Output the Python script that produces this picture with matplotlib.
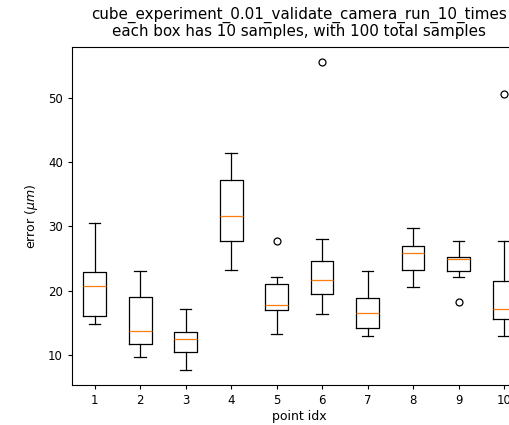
import matplotlib
matplotlib.use('Agg')
import matplotlib.pyplot as plt

# box statistics (error in um)
idx = [1, 2, 3, 4, 5, 6, 7, 8, 9, 10]
whislo = [14.8, 9.7, 7.7, 23.2, 13.3, 16.3, 13.0, 20.6, 22.1, 13.0]
q1 = [16.1, 11.7, 10.4, 27.7, 17.0, 19.5, 14.2, 23.2, 23.1, 15.6]
med = [20.75, 13.7, 12.5, 31.7, 17.7, 21.7, 16.6, 25.9, 24.9, 17.2]
q3 = [22.9, 19.0, 13.5, 37.2, 21.0, 24.7, 18.8, 27.0, 25.3, 21.5]
whishi = [30.5, 23.0, 17.1, 41.5, 22.1, 28.1, 23.0, 29.7, 27.8, 27.7]
fliers = [[], [], [], [], [27.7], [55.6], [], [], [18.2], [50.6]]

stats = []
for i in range(len(idx)):
    stats.append({'label': str(idx[i]), 'whislo': whislo[i], 'q1': q1[i],
                  'med': med[i], 'q3': q3[i], 'whishi': whishi[i],
                  'fliers': fliers[i]})

fig = plt.figure(figsize=(5.1, 4.25), dpi=100)
ax = fig.add_axes([0.141, 0.094, 0.892, 0.796])

lw = 0.9
ax.bxp(stats, positions=idx,
       boxprops=dict(linewidth=lw),
       whiskerprops=dict(linewidth=lw),
       capprops=dict(linewidth=lw),
       medianprops=dict(linewidth=lw, color='C1'),
       flierprops=dict(marker='o', markersize=5, markerfacecolor='none',
                       markeredgewidth=lw))
ax.margins(y=0.05)
ax.set_xlim(0.5, 10.5)
ax.tick_params(labelsize=8.5, width=0.8, length=3)
for s in ax.spines.values():
    s.set_linewidth(0.8)
ax.set_xlabel('point idx', fontsize=9, labelpad=2)
ax.set_ylabel(r'error ($\mu m$)', fontsize=9, labelpad=6)
ax.set_title('cube_experiment_0.01_validate_camera_run_10_times\n'
             'each box has 10 samples, with 100 total samples',
             fontsize=10.9, linespacing=1.05, pad=8)

fig.savefig('out.png', dpi=100)
